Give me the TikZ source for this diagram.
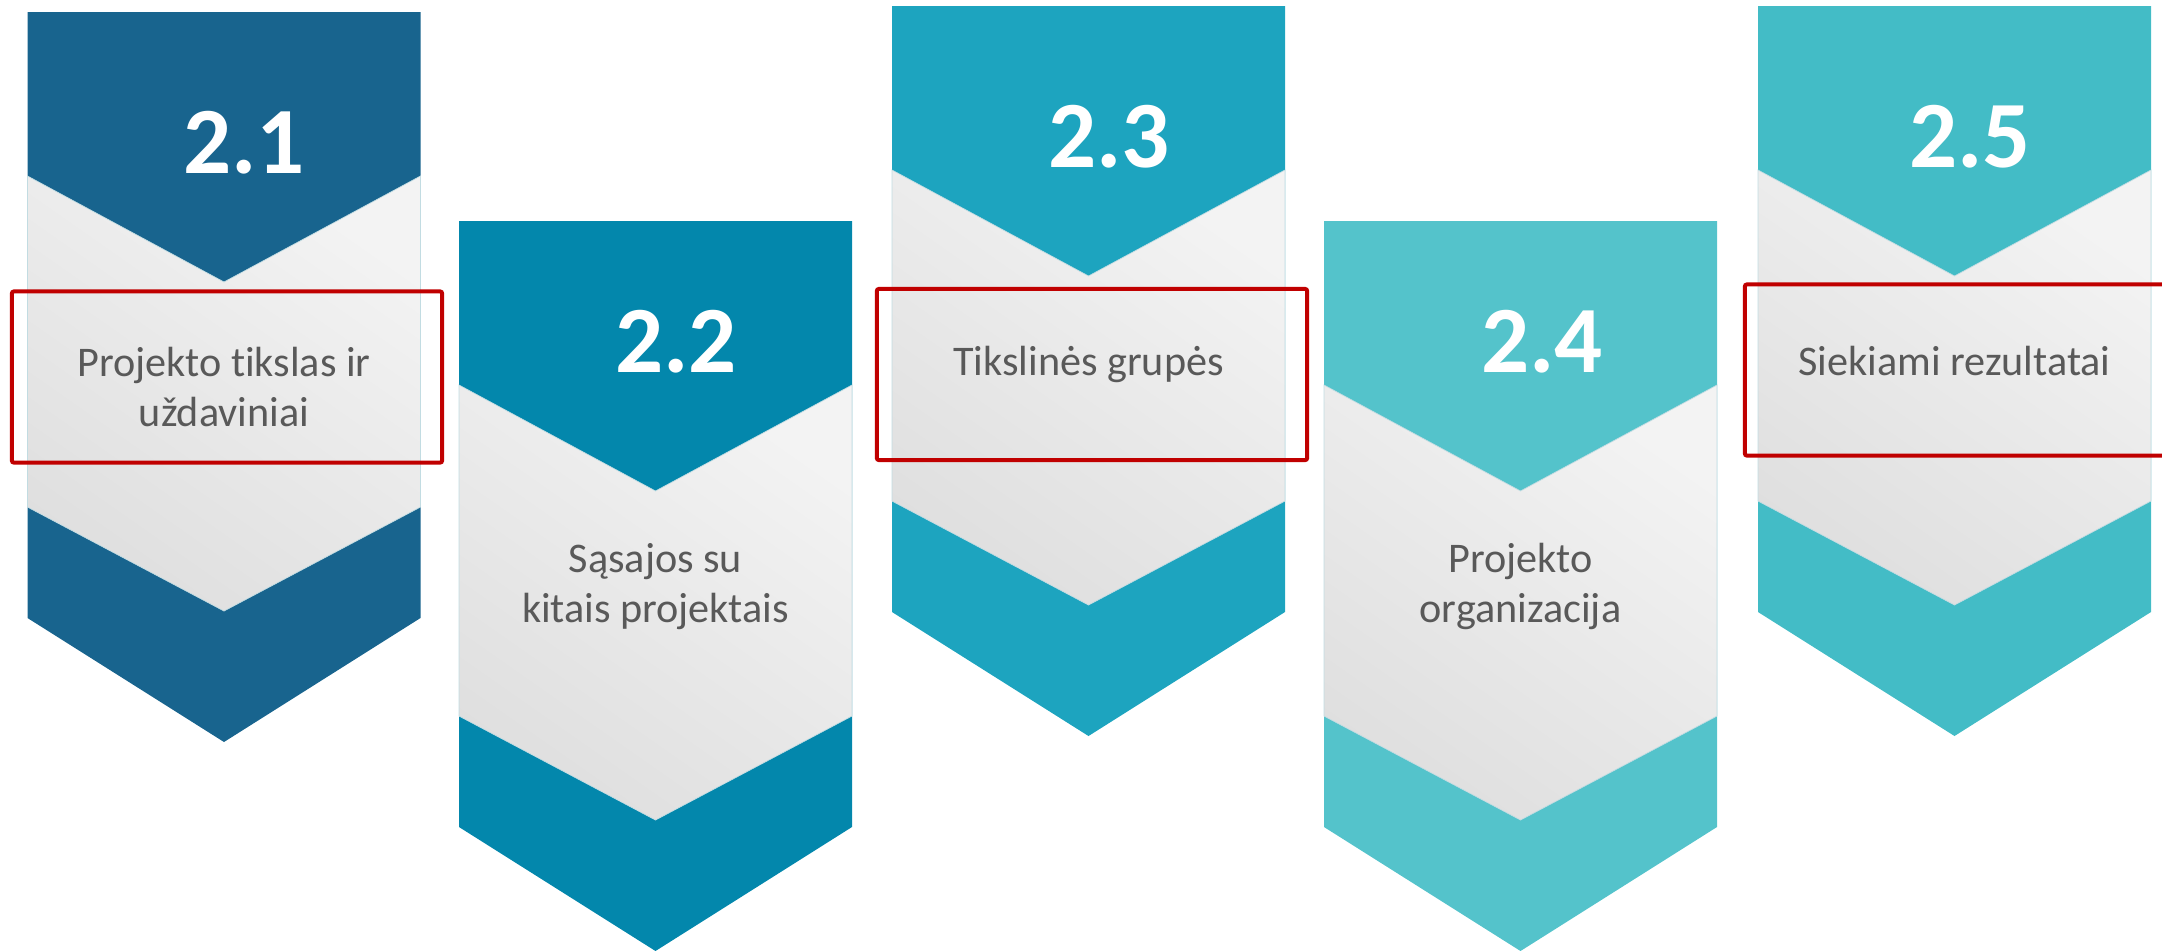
\documentclass[tikz,border=0pt]{standalone}
\usepackage{fontspec}
\setmainfont[Ligatures=NoCommon]{Carlito}
\definecolor{chevA}{HTML}{18648E}
\definecolor{chevB}{HTML}{0387AC}
\definecolor{chevC}{HTML}{1DA4BF}
\definecolor{chevD}{HTML}{54C3CB}
\definecolor{chevE}{HTML}{43BCC6}
\definecolor{bandlight}{HTML}{F3F3F3}
\definecolor{banddark}{HTML}{DFDFDF}
\definecolor{bandedge}{HTML}{C2DCE2}
\definecolor{labelgrey}{HTML}{595959}
\definecolor{framered}{HTML}{C00000}
\newcommand{\drawnum}{\node[anchor=base,text=white,font=\fontsize{27}{32}\selectfont\bfseries]}
\newcommand{\drawlabel}{\node[anchor=base,align=center,text=labelgrey,font=\fontsize{12}{14}\selectfont]}
\newcommand{\drawframe}{\node[draw=framered,line width=0.04cm,rounded corners=0.02cm,minimum width=4.3cm,minimum height=1.71cm,inner sep=0]}
% #1 left, #2 top, #3 colour
\newcommand{\drawchevron}[3]{%
\fill[#3] (#1,#2) -- ++(393,0) -- ++(0,606) -- ++(-196.5,124) -- ++(-196.5,-124) -- cycle;
\shade[top color=bandlight,bottom color=banddark,shading angle=-35,draw=bandedge,line width=0.2pt]
  (#1,#2+164) -- ++(196.5,106) -- ++(196.5,-106) -- ++(0,331) -- ++(-196.5,104) -- ++(-196.5,-104) -- cycle;
}

\begin{document}
\begin{tikzpicture}[x=0.01cm,y=-0.01cm]
\useasboundingbox (0,0) rectangle (2162,950);
\clip (0,0) rectangle (2162,950);
%five chevrons, high and low in turn
\drawchevron{27.5}{12}{chevA}
\drawchevron{459}{221}{chevB}
\drawchevron{892}{6}{chevC}
\drawchevron{1324}{221}{chevD}
\drawchevron{1758}{6}{chevE}

\drawnum (num1) at (244,173) {2.1};
\drawnum (num2) at (676,372) {2.2};
\drawnum (num3) at (1109,167) {2.3};
\drawnum (num4) at (1542,372) {2.4};
\drawnum (num5) at (1970,167) {2.5};

%two-line labels sit on their last line
\drawlabel (lab1) at (224,426) {Projekto tikslas ir\\uždaviniai};
\drawlabel (lab2) at (655.5,622) {Sąsajos su\\kitais projektais};
\drawlabel (lab3) at (1088.5,375) {Tikslinės grupės};
\drawlabel (lab4) at (1520.5,622) {Projekto\\organizacija};
\drawlabel (lab5) at (1954.5,375) {Siekiami rezultatai};

%red frames round the chosen items
\drawframe (frame1) at (227,377) {};
\drawframe (frame3) at (1092,374.5) {};
\drawframe (frame5) at (1960,370) {};
\end{tikzpicture}
\end{document}
